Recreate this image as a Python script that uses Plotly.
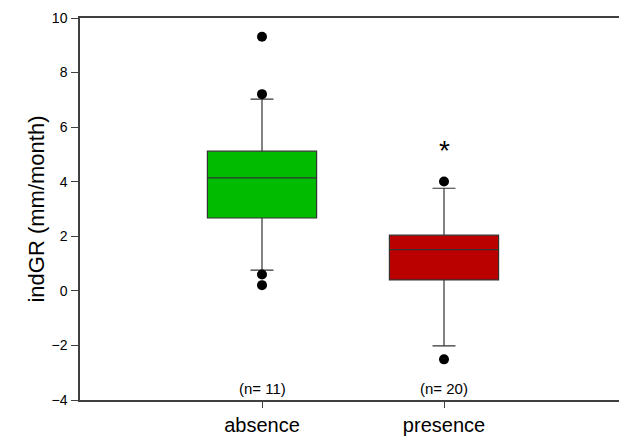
import plotly.graph_objects as go

categories = ["absence", "presence"]
q1 = [2.67, 0.40]
median = [4.14, 1.51]
q3 = [5.12, 2.04]
lower_whisker = [0.76, -2.02]
upper_whisker = [7.03, 3.76]
box_colors = ["#00BB00", "#BB0000"]

outlier_x = ["absence", "absence", "absence", "absence", "presence", "presence"]
outlier_y = [9.31, 7.21, 0.60, 0.21, 4.01, -2.51]

n_labels = ["(n= 11)", "(n= 20)"]
n_label_y = -3.58
star_label = "*"
star_category = "presence"
star_y = 5.15

y_ticks = [-4, -2, 0, 2, 4, 6, 8, 10]

FONT = "Liberation Sans, Arial, sans-serif"

fig = go.Figure()
for cat, a, m, b, lo, hi, col in zip(categories, q1, median, q3, lower_whisker, upper_whisker, box_colors):
    fig.add_trace(go.Box(
        x=[cat], q1=[a], median=[m], q3=[b], lowerfence=[lo], upperfence=[hi],
        boxpoints=False, width=0.6, whiskerwidth=0.21,
        fillcolor=col, line=dict(color="#333333", width=1.2),
        showlegend=False, hoverinfo="skip",
    ))

fig.add_trace(go.Scatter(
    x=outlier_x, y=outlier_y, mode="markers",
    marker=dict(color="black", size=10), showlegend=False, hoverinfo="skip",
))

for cat, lab in zip(categories, n_labels):
    fig.add_annotation(x=cat, y=n_label_y, text=lab, showarrow=False,
                       font=dict(family=FONT, size=15, color="black"),
                       xanchor="center", yanchor="middle")

fig.add_annotation(x=star_category, y=star_y, text=star_label, showarrow=False,
                   font=dict(family=FONT, size=28, color="black"),
                   xanchor="center", yanchor="middle")

axis_common = dict(showline=True, mirror=True, linecolor="#404040", linewidth=1.5,
                   showgrid=False, zeroline=False, ticks="outside", tickcolor="#404040",
                   tickwidth=1.2, automargin=False)

fig.update_xaxes(type="category", categoryorder="array", categoryarray=categories,
                 range=[-1, 2], ticklen=6, ticklabelstandoff=0,
                 tickfont=dict(family=FONT, size=20, color="black"), **axis_common)
fig.update_yaxes(range=[-4, 10], tickvals=y_ticks, ticklen=7, ticklabelstandoff=1,
                 tickfont=dict(family=FONT, size=14, color="black"),
                 title=dict(text="indGR (mm/month)", font=dict(family=FONT, size=22, color="black"),
                            standoff=1),
                 **axis_common)

# page body has an 8px margin, so the figure is offset by 8px
fig.update_layout(width=619, height=429, margin=dict(l=72, r=1, t=10, b=37),
                  paper_bgcolor="white", plot_bgcolor="white",
                  font=dict(family=FONT, color="black"))

fig.write_html("out.html")
